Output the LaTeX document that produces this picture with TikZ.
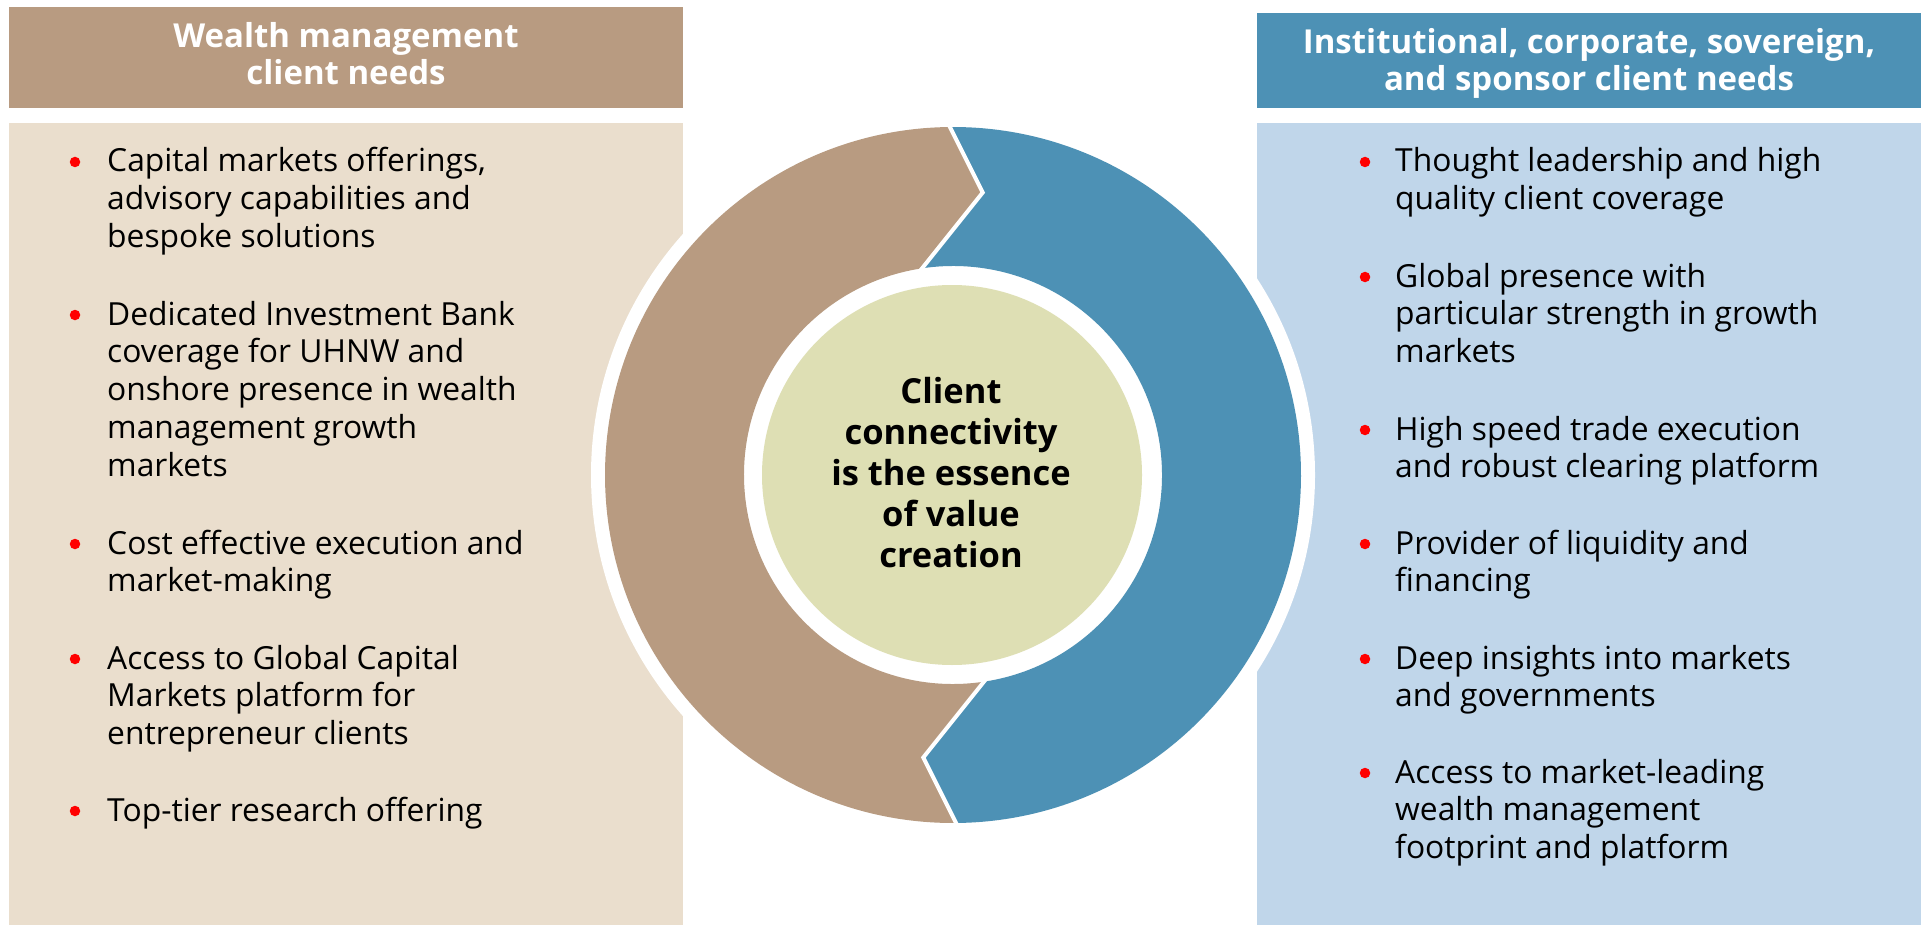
\documentclass[tikz,border=0pt]{standalone}
\usepackage{fontspec}
\setmainfont{Open Sans}
\usetikzlibrary{calc}

\definecolor{tanHead}{RGB}{184,155,129}
\definecolor{tanBody}{RGB}{234,222,205}
\definecolor{blueHead}{RGB}{77,145,181}
\definecolor{blueBody}{RGB}{192,214,234}
\definecolor{hubGreen}{RGB}{222,223,180}
\definecolor{bulletRed}{RGB}{255,0,0}

\begin{document}
% multi-line nodes are anchored at the baseline of their last line
\begin{tikzpicture}[x=1pt,y=1pt,
  hdr/.style={text=white, font=\fontsize{33}{36.5}\selectfont\bfseries,
              align=center, anchor=base, inner sep=0pt},
  item/.style={font=\fontsize{31.8}{37.8}\selectfont, align=left,
               anchor=base west, inner sep=0pt},
  dot/.style={circle, fill=bulletRed, minimum size=10.5pt, inner sep=0pt},
  hubtext/.style={font=\fontsize{34.5}{41}\selectfont\bfseries,
                  align=center, anchor=base, inner sep=0pt},
  sep/.style={white, line width=4pt, line join=miter}]

\useasboundingbox (0,0) rectangle (1921,-925);

% side panels
\fill[tanHead]  (9,-7)    rectangle (683,-108);
\fill[tanBody]  (9,-123)  rectangle (683,-925);
\fill[blueHead] (1257,-13) rectangle (1921,-108);
\fill[blueBody] (1257,-123) rectangle (1921,-925);

% white halo around the ring
\coordinate (C) at (953,-475);
\fill[white] (C) circle[radius=362];

% ring key points
\coordinate (topOut) at ($(C)+(90.5:348)$);
\coordinate (topTip) at ($(C)+(84:284)$);
\coordinate (topIn)  at ($(C)+(98.5:209)$);
\coordinate (botOut) at ($(C)+(270.5:348)$);
\coordinate (botTip) at ($(C)+(264:284)$);
\coordinate (botIn)  at ($(C)+(278.5:209)$);

% left (wealth management) half of the ring
\fill[tanHead] (topOut) arc[start angle=90.5, end angle=270.5, radius=348]
  -- (botTip) -- (botIn)
  arc[start angle=278.5, end angle=98.5, radius=209]
  -- (topTip) -- cycle;

% right (institutional) half of the ring
\fill[blueHead] (topOut) arc[start angle=90.5, end angle=-89.5, radius=348]
  -- (botTip) -- (botIn)
  arc[start angle=-81.5, end angle=98.5, radius=209]
  -- (topTip) -- cycle;

% white seams between the halves, extended a little past the ring edges
\draw[sep] ($(topTip)!1.15!(topOut)$) -- (topTip) -- ($(topTip)!1.15!(topIn)$);
\draw[sep] ($(botTip)!1.15!(botOut)$) -- (botTip) -- ($(botTip)!1.15!(botIn)$);

% hub
\node[circle, fill=hubGreen, minimum size=380pt, inner sep=0pt] (hub) at (952,-475) {};
\node[hubtext] (hubtxt) at (951,-567)
  {Client\\connectivity\\is the essence\\of value\\creation};

% headers
\node[hdr] (hl) at (346,-84.5) {Wealth management\\client needs};
\node[hdr] (hr) at (1589,-90.5) {Institutional, corporate, sovereign,\\and sponsor client needs};

% wealth management needs
\node[dot] (lb1) at (75,-162) {};
\node[item] (l1) at (107,-247.6) {Capital markets offerings,\\advisory capabilities and\\bespoke solutions};
\node[dot] (lb2) at (75,-315) {};
\node[item] (l2) at (107,-476.2) {Dedicated Investment Bank\\coverage for UHNW and\\onshore presence in wealth\\management growth\\markets};
\node[dot] (lb3) at (75,-544) {};
\node[item] (l3) at (107,-591.8) {Cost effective execution and\\market-making};
\node[dot] (lb4) at (75,-659) {};
\node[item] (l4) at (107,-744.6) {Access to Global Capital\\Markets platform for\\entrepreneur clients};
\node[dot] (lb5) at (75,-811) {};
\node[item] (l5) at (107,-821) {Top-tier research offering};

% institutional, corporate, sovereign and sponsor needs
\node[dot] (rb1) at (1365,-162) {};
\node[item] (r1) at (1395,-209.8) {Thought leadership and high\\quality client coverage};
\node[dot] (rb2) at (1365,-277) {};
\node[item] (r2) at (1395,-362.6) {Global presence with\\particular strength in growth\\markets};
\node[dot] (rb3) at (1365,-430) {};
\node[item] (r3) at (1395,-477.8) {High speed trade execution\\and robust clearing platform};
\node[dot] (rb4) at (1365,-544) {};
\node[item] (r4) at (1395,-591.8) {Provider of liquidity and\\financing};
\node[dot] (rb5) at (1365,-659) {};
\node[item] (r5) at (1395,-706.8) {Deep insights into markets\\and governments};
\node[dot] (rb6) at (1365,-773) {};
\node[item] (r6) at (1395,-858.6) {Access to market-leading\\wealth management\\footprint and platform};

\end{tikzpicture}
\end{document}
